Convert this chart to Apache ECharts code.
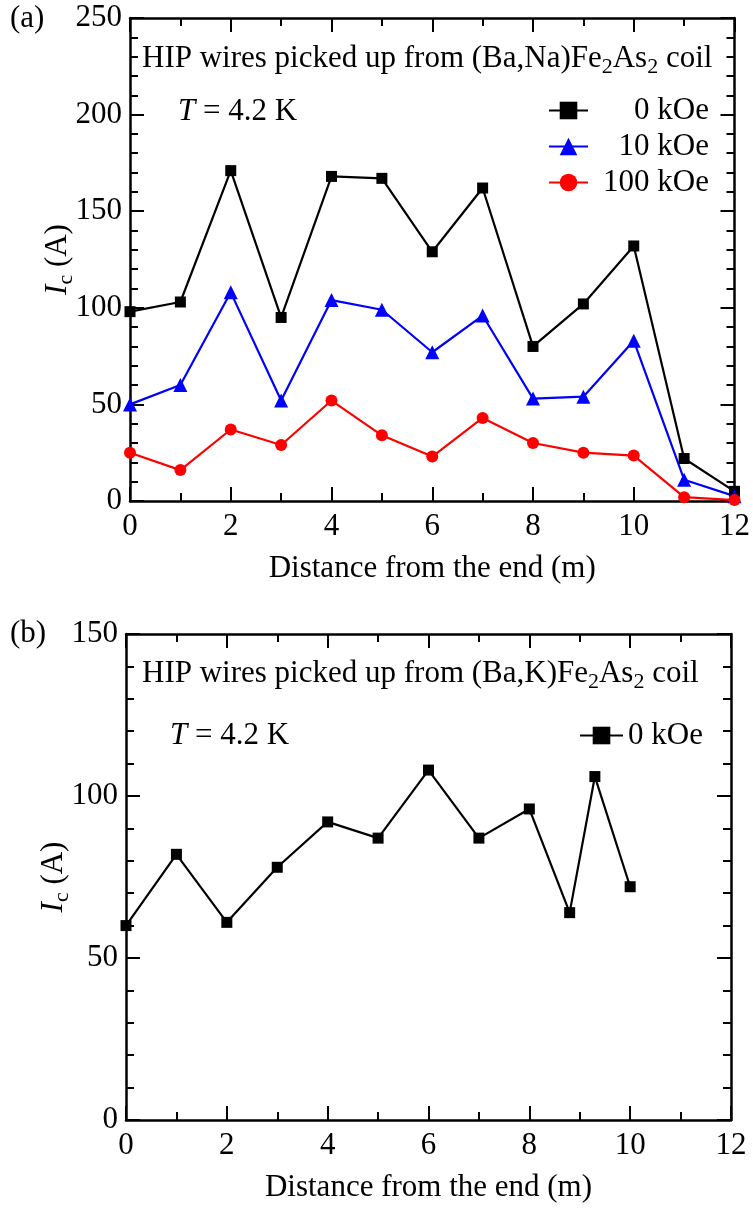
<!DOCTYPE html>
<html>
<head>
<meta charset="utf-8">
<script src="https://cdn.jsdelivr.net/npm/echarts@6/dist/echarts.min.js"></script>
<style>html,body{margin:0;padding:0;background:#fff}#c{width:753px;height:1210px}</style>
</head>
<body>
<div id="c"></div>
<script>
// ---- data ----
const distTop = [0,1,2,3,4,5,6,7,8,9,10,11,12];
const ic0kOe = [98,103,171,95,168,167,129,162,80,102,132,22,5];
const ic10kOe = [50,60,108,52,104,99,77,96,53,54,83,11,2.5];
const ic100kOe = [25,16,37,29,52,34,23,43,30,25,23.5,2,0.5];
const distBot = [0,1,2,3,4,5,6,7,8,8.8,9.3,10];
const icBot0kOe = [60,82,61,78,92,87,108,87,96,64,106,72];
const xTicksTop = {min:0, max:12, interval:2};
const yTicksTop = {min:0, max:250, interval:50};
const yTicksBot = {min:0, max:150, interval:50};
const seriesNames = ['0 kOe','10 kOe','100 kOe'];

const FONT = "'Liberation Serif','Times New Roman',serif";
const FS = 31;
const pairs = (xs, ys) => xs.map((x,i)=>[x, ys[i]]);

function xAx(grid, pos, ticks, withLabels, name){
  return {
    type:'value', gridIndex:grid, position:pos, min:ticks.min, max:ticks.max, interval:ticks.interval,
    axisLine:{show:true, onZero:false, lineStyle:{color:'#000', width:2.5}},
    axisTick:{show:true, inside:true, length:14, lineStyle:{color:'#000', width:2}},
    minorTick:{show:true, splitNumber:2, length:8, lineStyle:{color:'#000', width:2}},
    splitLine:{show:false}, minorSplitLine:{show:false},
    axisLabel:{show:withLabels, color:'#000', fontFamily:FONT, fontSize:FS, margin:10},
    name: withLabels ? name : '', nameLocation:'middle', nameGap:52, nameMoveOverlap:false,
    nameTextStyle:{color:'#000', fontFamily:FONT, fontSize:FS}
  };
}
function yAx(grid, pos, ticks, withLabels){
  return {
    type:'value', gridIndex:grid, position:pos, min:ticks.min, max:ticks.max, interval:ticks.interval,
    axisLine:{show:true, onZero:false, lineStyle:{color:'#000', width:2.5}},
    axisTick:{show:true, inside:true, length:14, lineStyle:{color:'#000', width:2}},
    minorTick:{show:true, splitNumber:5, length:8, lineStyle:{color:'#000', width:2}},
    splitLine:{show:false}, minorSplitLine:{show:false},
    axisLabel:{show:withLabels, color:'#000', fontFamily:FONT, fontSize:FS, margin:8},
    name: withLabels ? '{i|I}{s|c} (A)' : '', nameLocation:'middle', nameGap:53, nameRotate:90,
    nameMoveOverlap:false,
    nameTextStyle:{color:'#000', fontFamily:FONT, fontSize:FS,
      rich:{i:{fontStyle:'italic', fontFamily:FONT, fontSize:FS, color:'#000'},
            s:{fontFamily:FONT, fontSize:22, color:'#000', padding:[16,0,0,0]}}}
  };
}
const richTitle = {
  s:{fontFamily:FONT, fontSize:22, color:'#000', padding:[16,0,0,0]},
  i:{fontFamily:FONT, fontSize:FS, color:'#000', fontStyle:'italic'}
};
function ttl(text, left, top){
  return {text:text, left:left, top:top, padding:0,
    textStyle:{fontFamily:FONT, fontSize:FS, fontWeight:'normal', color:'#000', rich:richTitle}};
}

const chart = echarts.init(document.getElementById('c'), null, {renderer:'canvas'});
const lineSeries = (name, data, xi, yi, color, symbol, size) => ({
  name:name, type:'line', xAxisIndex:xi, yAxisIndex:yi, data:data,
  symbol:symbol, symbolSize:size, showSymbol:true,
  lineStyle:{color:color, width:2.2}, itemStyle:{color:color}, emphasis:{disabled:true}, z:3
});

chart.setOption({
  animation:false,
  title:[
    ttl('(a)', 10, 3),
    ttl('HIP wires picked up from (Ba,Na)Fe{s|2}As{s|2} coil', 142, 40),
    ttl('{i|T} = 4.2 K', 178, 96),
    ttl('(b)', 10, 618),
    ttl('HIP wires picked up from (Ba,K)Fe{s|2}As{s|2} coil', 142, 655),
    ttl('{i|T} = 4.2 K', 170, 720)
  ],
  grid:[
    {left:130, top:18, width:606, height:483},
    {left:126, top:634, width:605, height:486}
  ],
  legend:[
    {orient:'vertical', left:543, top:90, itemWidth:39, itemHeight:22, itemGap:5, itemTextGap:5,
     data:seriesNames, selectedMode:false,
     formatter:'{a|{name}}',
     textStyle:{fontFamily:FONT, fontSize:FS, color:'#000',
       rich:{a:{width:116, align:'right', fontFamily:FONT, fontSize:FS, color:'#000'}}}},
    {orient:'vertical', left:574, top:715, itemWidth:43, itemHeight:22, itemTextGap:10,
     data:['0 kOe (b)'], selectedMode:false,
     formatter:()=>'0 kOe',
     textStyle:{fontFamily:FONT, fontSize:FS, color:'#000'}}
  ],
  xAxis:[
    xAx(0,'bottom',xTicksTop,true,'Distance from the end (m)'),
    xAx(0,'top',xTicksTop,false,''),
    xAx(1,'bottom',xTicksTop,true,'Distance from the end (m)'),
    xAx(1,'top',xTicksTop,false,'')
  ],
  yAxis:[
    yAx(0,'left',yTicksTop,true),
    yAx(0,'right',yTicksTop,false),
    yAx(1,'left',yTicksBot,true),
    yAx(1,'right',yTicksBot,false)
  ],
  series:[
    lineSeries(seriesNames[0], pairs(distTop, ic0kOe), 0, 0, '#000000', 'rect', 11),
    lineSeries(seriesNames[1], pairs(distTop, ic10kOe), 0, 0, '#0000ff', 'triangle', 14),
    lineSeries(seriesNames[2], pairs(distTop, ic100kOe), 0, 0, '#ff0000', 'circle', 12),
    lineSeries('0 kOe (b)', pairs(distBot, icBot0kOe), 2, 2, '#000000', 'rect', 11)
  ]
});
</script>
</body>
</html>
